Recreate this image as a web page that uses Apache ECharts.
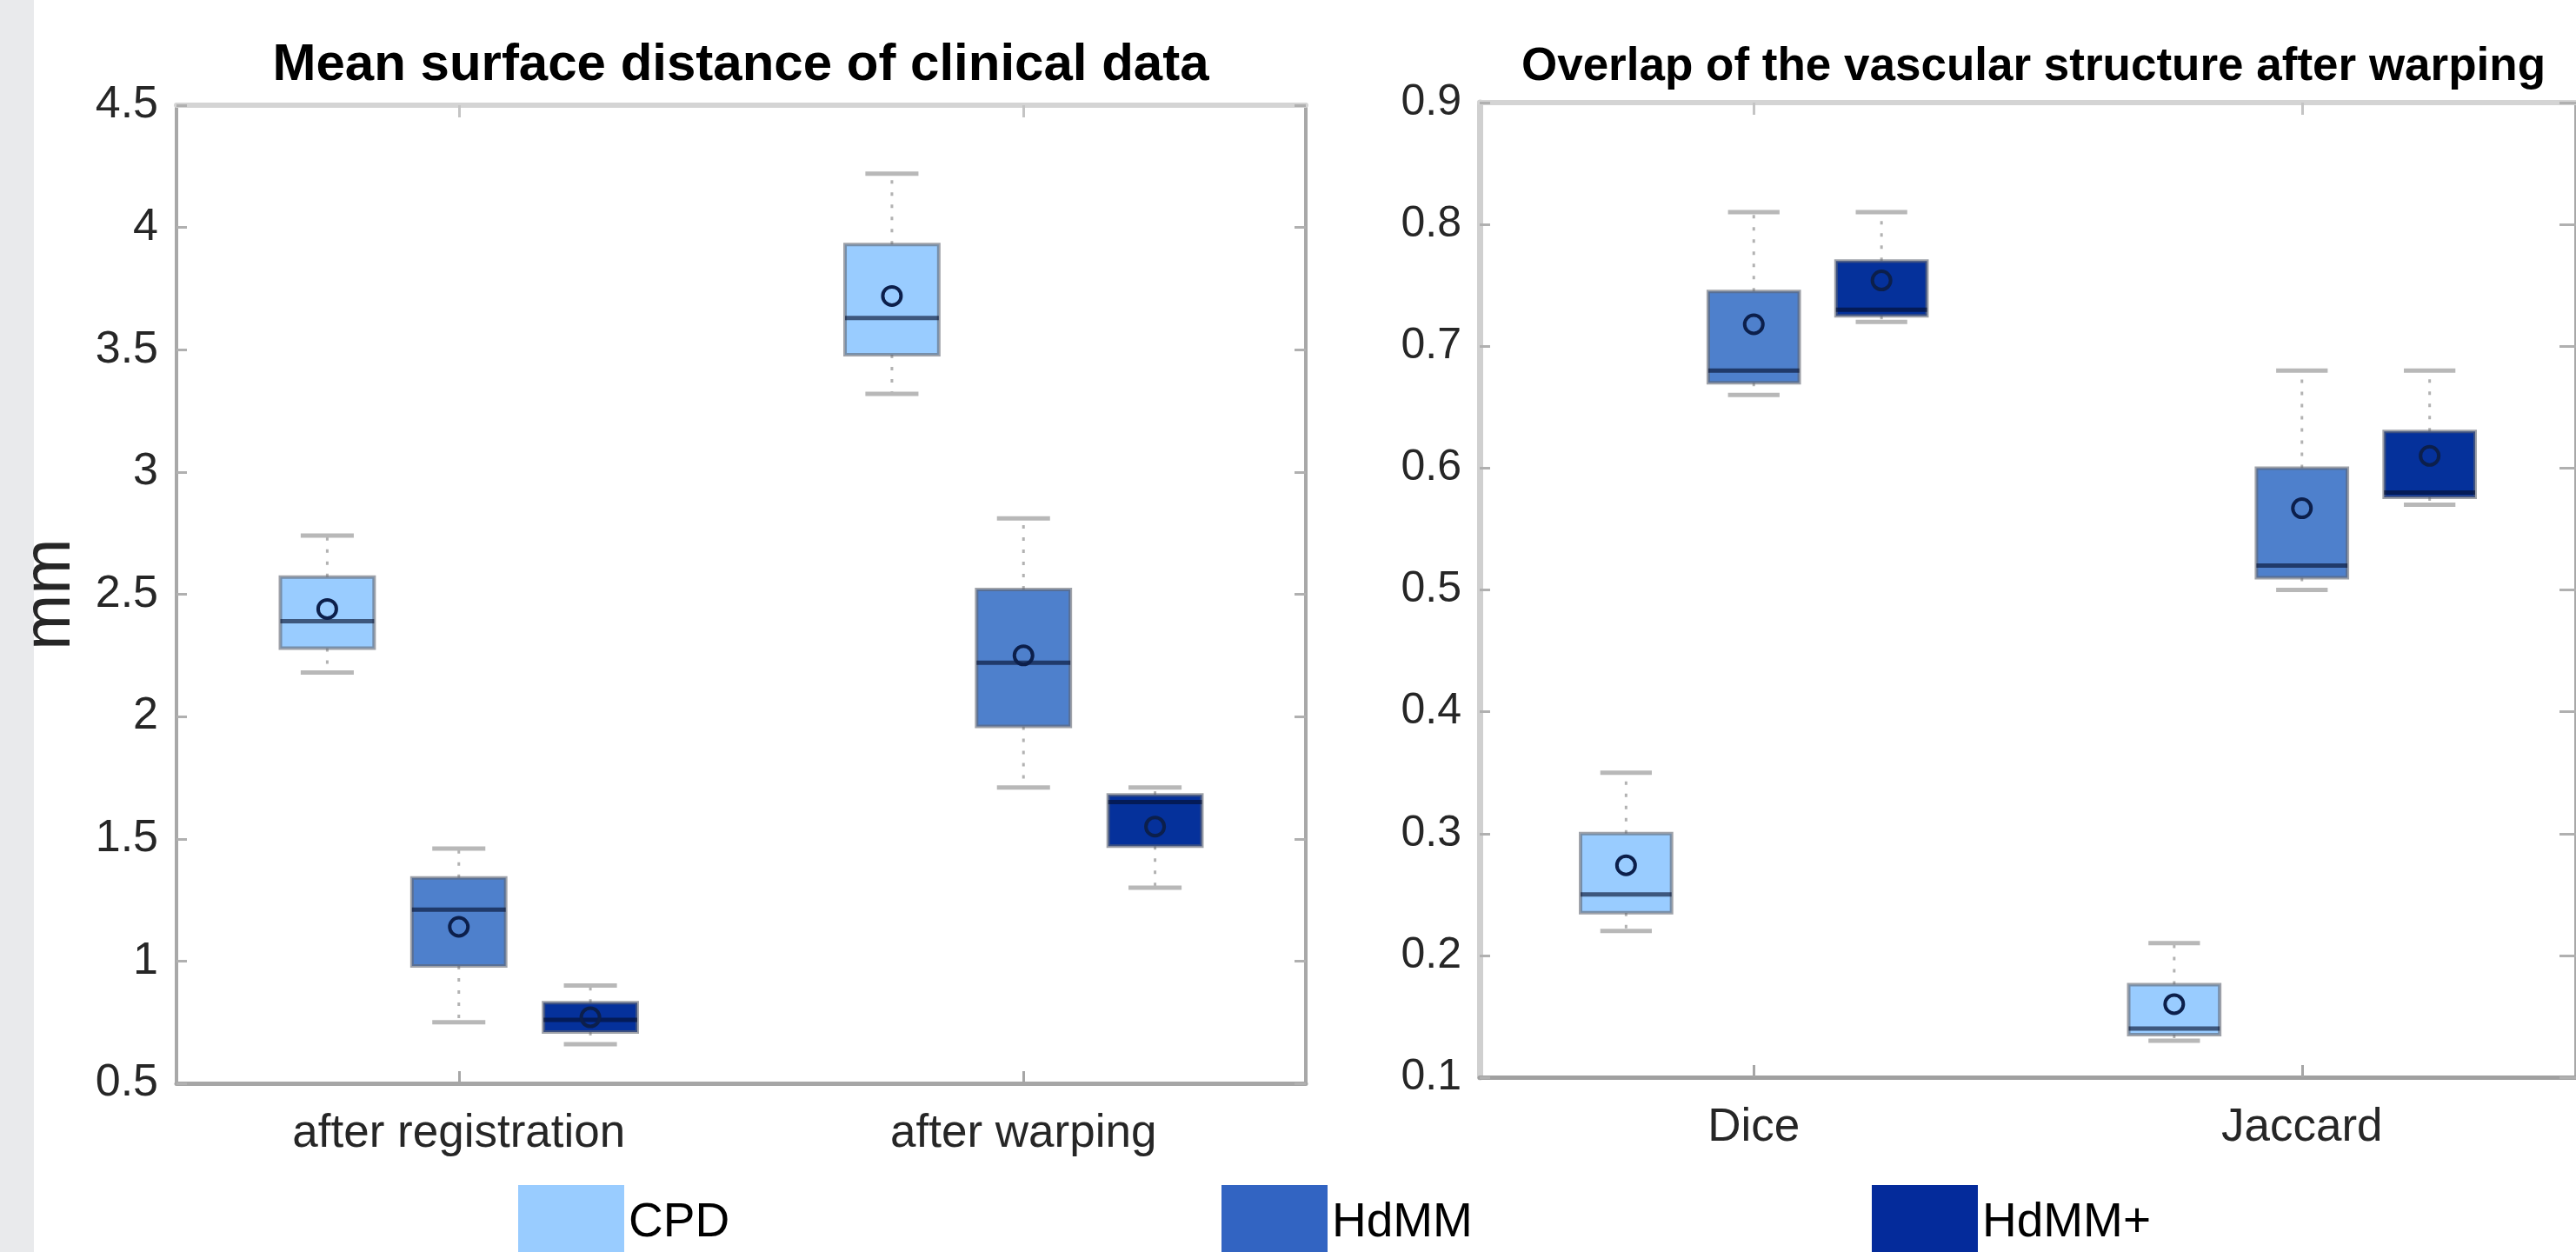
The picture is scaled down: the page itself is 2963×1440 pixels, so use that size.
<!DOCTYPE html>
<html>
<head>
<meta charset="utf-8">
<script src="https://cdn.jsdelivr.net/npm/echarts@6/dist/echarts.min.js"></script>
<style>
html,body{margin:0;padding:0;background:#ffffff;}
#c{width:2963px;height:1440px;}
</style>
</head>
<body>
<div id="c"></div>
<script>
// ---------------- data ----------------
const seriesNames = ['CPD', 'HdMM', 'HdMM+'];

// Left panel: mean surface distance (mm)
const msdCategories = ['after registration', 'after warping'];
const msdTicks = [0.5, 1, 1.5, 2, 2.5, 3, 3.5, 4, 4.5];
// each row: [min, q1, median, q3, max]
const msdCPDBox   = [[2.18, 2.28, 2.39, 2.57, 2.74], [3.32, 3.48, 3.63, 3.93, 4.22]];
const msdCPDMean  = [2.44, 3.72];
const msdHdMMBox  = [[0.75, 0.98, 1.21, 1.34, 1.46], [1.71, 1.96, 2.22, 2.52, 2.81]];
const msdHdMMMean = [1.14, 2.25];
const msdHdMMpBox = [[0.66, 0.71, 0.76, 0.83, 0.90], [1.30, 1.47, 1.65, 1.68, 1.71]];
const msdHdMMpMean= [0.77, 1.55];

// Right panel: overlap of the vascular structure
const ovCategories = ['Dice', 'Jaccard'];
const ovTicks = [0.1, 0.2, 0.3, 0.4, 0.5, 0.6, 0.7, 0.8, 0.9];
const ovCPDBox   = [[0.22, 0.235, 0.25, 0.30, 0.35], [0.13, 0.135, 0.14, 0.176, 0.21]];
const ovCPDMean  = [0.274, 0.16];
const ovHdMMBox  = [[0.66, 0.67, 0.68, 0.745, 0.81], [0.50, 0.51, 0.52, 0.60, 0.68]];
const ovHdMMMean = [0.718, 0.567];
const ovHdMMpBox = [[0.72, 0.725, 0.73, 0.77, 0.81], [0.57, 0.576, 0.58, 0.63, 0.68]];
const ovHdMMpMean= [0.754, 0.61];

// ---------------- styling ----------------
const FONT = "'Liberation Sans', Arial, Helvetica, sans-serif";
const boxColors    = ['#99ccff', '#4e80cc', '#05319b'];
const legendColors = ['#99ccff', '#3264c2', '#042b9b'];
const OFFSETS = [-0.233, 0, 0.233];
const BOX_W = 0.166;
const CAP_HALF = 0.047;

function build(box, mean) {
  return box.map((b, i) => [i, b[0], b[1], b[2], b[3], b[4], mean[i]]);
}

function makeRender(k) {
  const fill = boxColors[k];
  return function (params, api) {
    const cat = api.value(0);
    const band = api.size([1, 0])[0];
    const cx = api.coord([cat, api.value(3)])[0] + OFFSETS[k] * band;
    const y = (i) => api.coord([cat, api.value(i)])[1];
    const yMin = y(1), yQ1 = y(2), yMed = y(3), yQ3 = y(4), yMax = y(5), yMean = y(6);
    const bw = BOX_W * band, cw = CAP_HALF * band;
    const dash = { stroke: '#b2b2b2', lineWidth: 3, lineDash: [4, 10] };
    const cap = { stroke: '#b8b8b8', lineWidth: 5 };
    return {
      type: 'group',
      children: [
        { type: 'line', shape: { x1: cx, y1: yQ3, x2: cx, y2: yMax }, style: dash },
        { type: 'line', shape: { x1: cx, y1: yQ1, x2: cx, y2: yMin }, style: dash },
        { type: 'line', shape: { x1: cx - cw, y1: yMax, x2: cx + cw, y2: yMax }, style: cap },
        { type: 'line', shape: { x1: cx - cw, y1: yMin, x2: cx + cw, y2: yMin }, style: cap },
        { type: 'rect', shape: { x: cx - bw / 2, y: yQ3, width: bw, height: yQ1 - yQ3 },
          style: { fill: fill, stroke: 'rgba(95,100,112,0.6)', lineWidth: 4 } },
        { type: 'line', shape: { x1: cx - bw / 2, y1: yMed, x2: cx + bw / 2, y2: yMed },
          style: { stroke: 'rgba(5,15,45,0.62)', lineWidth: 5 } },
        { type: 'circle', shape: { cx: cx, cy: yMean, r: 10.5 },
          style: { fill: 'none', stroke: '#0c1f4b', lineWidth: 4 } }
      ]
    };
  };
}

const leftData  = [build(msdCPDBox, msdCPDMean), build(msdHdMMBox, msdHdMMMean), build(msdHdMMpBox, msdHdMMpMean)];
const rightData = [build(ovCPDBox, ovCPDMean), build(ovHdMMBox, ovHdMMMean), build(ovHdMMpBox, ovHdMMpMean)];

function xAxes(gridIndex, cats, lineColorBottom) {
  return [
    { gridIndex, type: 'category', data: cats, position: 'bottom',
      axisLine: { show: true, lineStyle: { color: lineColorBottom, width: 5 } },
      axisTick: { show: true, inside: true, alignWithLabel: true, length: 14, lineStyle: { color: '#a6a6a6', width: 3 } },
      axisLabel: { margin: 32, fontSize: 53, color: '#262626', fontFamily: FONT },
      splitLine: { show: false } },
    { gridIndex, type: 'category', data: cats, position: 'top',
      axisLine: { show: true, lineStyle: { color: '#d4d4d4', width: 6 } },
      axisTick: { show: true, inside: true, alignWithLabel: true, length: 14, lineStyle: { color: '#c4c4c4', width: 3 } },
      axisLabel: { show: false }, splitLine: { show: false } }
  ];
}

function yAxes(gridIndex, ticks, leftLine, labelSize, rightTickLen, extra) {
  const min = ticks[0], max = ticks[ticks.length - 1];
  const interval = +(ticks[1] - ticks[0]).toFixed(6);
  return [
    Object.assign({ gridIndex, type: 'value', min, max, interval, position: 'left',
      axisLine: { show: true, lineStyle: { color: leftLine.color, width: leftLine.width } },
      axisTick: { show: true, inside: true, length: 12, lineStyle: { color: '#b0b0b0', width: 3 } },
      axisLabel: { margin: 21, fontSize: labelSize, color: '#262626', fontFamily: FONT },
      splitLine: { show: false } }, extra || {}),
    { gridIndex, type: 'value', min, max, interval, position: 'right',
      axisLine: { show: true, lineStyle: { color: '#a8a8a8', width: 4 } },
      axisTick: { show: true, inside: true, length: rightTickLen, lineStyle: { color: '#b0b0b0', width: 3 } },
      axisLabel: { show: false }, splitLine: { show: false } }
  ];
}

const series = [];
for (let g = 0; g < 2; g++) {
  for (let k = 0; k < 3; k++) {
    series.push({
      type: 'custom',
      name: seriesNames[k],
      xAxisIndex: g * 2,
      yAxisIndex: g * 2,
      itemStyle: { color: legendColors[k] },
      renderItem: makeRender(k),
      encode: { x: 0, y: [1, 2, 3, 4, 5, 6] },
      data: g === 0 ? leftData[k] : rightData[k],
      z: 3,
      silent: true
    });
  }
}

function legendFor(name, left) {
  return {
    data: [name], left: left, top: 1363, padding: 0, orient: 'horizontal',
    icon: 'rect', itemWidth: 122, itemHeight: 88, selectedMode: false,
    textStyle: { fontSize: 55, color: '#000000', fontFamily: FONT }
  };
}

const option = {
  backgroundColor: '#ffffff',
  animation: false,
  graphic: [
    { type: 'rect', left: 0, top: 0, shape: { width: 39, height: 1440 }, style: { fill: '#e9eaec' }, silent: true, z: -10 }
  ],
  title: [
    { text: 'Mean surface distance of clinical data', left: 852, top: 45, textAlign: 'center', padding: 0,
      textStyle: { fontSize: 60, fontWeight: 'bold', color: '#000000', fontFamily: FONT } },
    { text: 'Overlap of the vascular structure after warping', left: 2339, top: 51, textAlign: 'center', padding: 0,
      textStyle: { fontSize: 53, fontWeight: 'bold', color: '#000000', fontFamily: FONT } }
  ],
  legend: [legendFor('CPD', 596), legendFor('HdMM', 1405), legendFor('HdMM+', 2153)],
  grid: [
    { left: 203, top: 121, width: 1299, height: 1125 },
    { left: 1702, top: 118, width: 1275, height: 1121 }
  ],
  xAxis: [].concat(xAxes(0, msdCategories, '#a6a6a6'), xAxes(1, ovCategories, '#a0a0a0')),
  yAxis: [].concat(
    yAxes(0, msdTicks, { color: '#a8a8a8', width: 4 }, 52, 13,
      { name: 'mm', nameLocation: 'middle', nameGap: 106, nameRotate: 90,
        nameTextStyle: { fontSize: 77, color: '#262626', fontFamily: FONT } }),
    yAxes(1, ovTicks, { color: '#d0d0d0', width: 7 }, 50, 19)
  ),
  series: series
};

const chart = echarts.init(document.getElementById('c'), null, { renderer: 'canvas', width: 2963, height: 1440 });
chart.setOption(option);
</script>
</body>
</html>
